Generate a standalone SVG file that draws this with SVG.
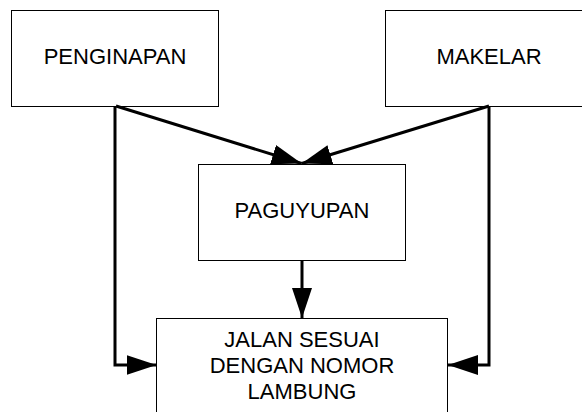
<svg xmlns="http://www.w3.org/2000/svg" width="582" height="412" viewBox="0 0 582 412">
<style>
.box{fill:#fff;stroke:#000;stroke-width:1}
.lbl{font-family:"Liberation Sans",Arial,sans-serif;font-size:22px;fill:#000;text-anchor:middle}
.con{fill:none;stroke:#000;stroke-width:3}
</style>
<defs>
<marker id="ah" markerUnits="userSpaceOnUse" markerWidth="30" markerHeight="20" refX="30" refY="10" orient="auto" viewBox="0 0 30 20">
<path d="M0,0 L30,10 L0,20 Z" fill="#000"/>
</marker>
</defs>
<rect width="582" height="412" fill="#fff"/>
<g id="penginapan">
<rect class="box" x="11.5" y="10.5" width="207" height="96"/>
<text class="lbl" x="115" y="64">PENGINAPAN</text>
</g>
<g id="makelar">
<rect class="box" x="385.5" y="10.5" width="210" height="96"/>
<text class="lbl" x="489" y="64">MAKELAR</text>
</g>
<g id="paguyupan">
<rect class="box" x="198.5" y="164.5" width="207" height="96"/>
<text class="lbl" x="302" y="218">PAGUYUPAN</text>
</g>
<g id="jalan">
<rect class="box" x="156.5" y="318.5" width="291" height="110"/>
<text class="lbl" x="302" y="347">JALAN SESUAI</text>
<text class="lbl" x="302" y="373">DENGAN NOMOR</text>
<text class="lbl" x="302" y="399">LAMBUNG</text>
</g>
<g id="connectors">
<path class="con" d="M116,106 L301.7,163.5" marker-end="url(#ah)"/>
<path class="con" d="M489,106 L301.7,163.5" marker-end="url(#ah)"/>
<path class="con" d="M115,106 V365 H156.5" marker-end="url(#ah)"/>
<path class="con" d="M489,106 V365 H448" marker-end="url(#ah)"/>
<path class="con" d="M302,260 V318" marker-end="url(#ah)"/>
</g>
</svg>
